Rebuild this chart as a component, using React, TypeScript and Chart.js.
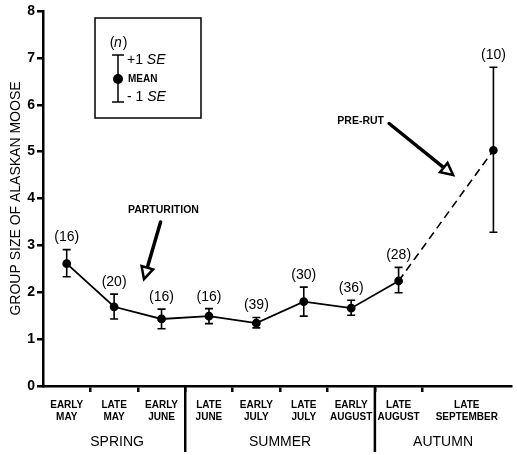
import React, { useEffect, useRef } from 'react';
import { Chart, registerables } from 'chart.js';

Chart.register(...registerables);

// ---- data ----
const periodLabels: string[][] = [
  ['EARLY', 'MAY'], ['LATE', 'MAY'], ['EARLY', 'JUNE'], ['LATE', 'JUNE'],
  ['EARLY', 'JULY'], ['LATE', 'JULY'], ['EARLY', 'AUGUST'], ['LATE', 'AUGUST'],
  ['LATE', 'SEPTEMBER'],
];
const periodIndex = [0, 1, 2, 3, 4, 5, 6, 7, 9];
const meanGroupSize = [2.61, 1.69, 1.43, 1.49, 1.34, 1.80, 1.66, 2.24, 5.03];
const upperSE = [2.91, 1.96, 1.64, 1.65, 1.46, 2.11, 1.83, 2.53, 6.80];
const lowerSE = [2.33, 1.43, 1.22, 1.33, 1.24, 1.49, 1.51, 1.99, 3.28];
const sampleSizes = [16, 20, 16, 16, 39, 30, 36, 28, 10];
const seasons = ['SPRING', 'SUMMER', 'AUTUMN'];
const seasonStart = [-0.5, 2.5, 6.5];
const boundaryTicks = [0.5, 1.5, 2.5, 3.5, 4.5, 5.5, 6.5, 7.5];
const seasonDividers = [2.5, 6.5];
const yTicks = [0, 1, 2, 3, 4, 5, 6, 7, 8];
const X_MIN = -0.5;
const X_MAX = 9.375;
const yTitle = 'GROUP SIZE OF ALASKAN MOOSE';
const annotations = [
  { text: 'PARTURITION', textAt: [2.04, 3.76], from: [1.98, 3.5], to: [1.63, 2.28] },
  { text: 'PRE-RUT', textAt: [6.2, 5.65], from: [6.8, 5.6], to: [8.15, 4.5] },
];

const FONT = '"Liberation Sans", Arial, Helvetica, sans-serif';

function drawArrow(ctx: CanvasRenderingContext2D, x1: number, y1: number, x2: number, y2: number) {
  const ang = Math.atan2(y2 - y1, x2 - x1);
  const headLen = 12;
  const headW = 6;
  const bx = x2 - headLen * Math.cos(ang);
  const by = y2 - headLen * Math.sin(ang);
  ctx.save();
  ctx.strokeStyle = '#000';
  ctx.lineWidth = 3.5;
  ctx.lineCap = 'round';
  ctx.beginPath();
  ctx.moveTo(x1, y1);
  ctx.lineTo(bx, by);
  ctx.stroke();
  ctx.lineWidth = 2.5;
  ctx.lineJoin = 'miter';
  ctx.beginPath();
  ctx.moveTo(x2, y2);
  ctx.lineTo(bx + headW * Math.sin(ang), by - headW * Math.cos(ang));
  ctx.lineTo(bx - headW * Math.sin(ang), by + headW * Math.cos(ang));
  ctx.closePath();
  ctx.fillStyle = '#fff';
  ctx.fill();
  ctx.stroke();
  ctx.restore();
}

function drawSE(ctx: CanvasRenderingContext2D, x: number, y: number, sign: string) {
  ctx.font = `14px ${FONT}`;
  ctx.fillText(sign, x, y);
  const w = ctx.measureText(sign).width;
  ctx.font = `italic 14px ${FONT}`;
  ctx.fillText('SE', x + w, y);
}

const moosePlugin = {
  id: 'moosePlugin',
  afterDatasetsDraw(chart: any) {
    const { ctx, chartArea, scales } = chart;
    const x = scales.x;
    const y = scales.y;
    ctx.save();
    ctx.fillStyle = '#000';
    ctx.strokeStyle = '#000';

    // error bars + sample sizes
    periodIndex.forEach((p, i) => {
      const px = x.getPixelForValue(p);
      const yt = y.getPixelForValue(upperSE[i]);
      const yb = y.getPixelForValue(lowerSE[i]);
      ctx.lineWidth = 1.6;
      ctx.beginPath();
      ctx.moveTo(px, yt); ctx.lineTo(px, yb);
      ctx.moveTo(px - 4, yt); ctx.lineTo(px + 4, yt);
      ctx.moveTo(px - 4, yb); ctx.lineTo(px + 4, yb);
      ctx.stroke();
      ctx.font = `14px ${FONT}`;
      ctx.textAlign = 'center';
      ctx.textBaseline = 'middle';
      ctx.fillText(`(${sampleSizes[i]})`, px, yt - 12);
    });

    // season dividers
    const bottom = chartArea.bottom;
    ctx.lineWidth = 2.5;
    seasonDividers.forEach((d) => {
      const px = x.getPixelForValue(d);
      ctx.beginPath();
      ctx.moveTo(px, bottom);
      ctx.lineTo(px, bottom + 66);
      ctx.stroke();
    });

    // period labels
    ctx.font = `bold 10px ${FONT}`;
    ctx.textAlign = 'center';
    ctx.textBaseline = 'middle';
    periodLabels.forEach((lines, i) => {
      let cx = x.getPixelForValue(periodIndex[i]);
      if (i === periodLabels.length - 1) {
        cx = (x.getPixelForValue(boundaryTicks[boundaryTicks.length - 1]) + chartArea.right) / 2;
      }
      lines.forEach((t, k) => ctx.fillText(t, cx, bottom + 19 + k * 12));
    });

    // season labels
    ctx.font = `14px ${FONT}`;
    seasons.forEach((s, i) => {
      const a = x.getPixelForValue(seasonStart[i]);
      const b = i + 1 < seasonStart.length ? x.getPixelForValue(seasonStart[i + 1]) : chartArea.right;
      ctx.fillText(s, (a + b) / 2 + (i === 0 ? 3 : 0), bottom + 56);
    });

    // y title
    ctx.save();
    ctx.translate(16, (chartArea.top + chartArea.bottom) / 2);
    ctx.rotate(-Math.PI / 2);
    ctx.font = `14px ${FONT}`;
    ctx.fillText(yTitle, 0, 0);
    ctx.restore();

    // annotations
    annotations.forEach((a) => {
      ctx.font = `bold 10.5px ${FONT}`;
      ctx.textAlign = 'center';
      ctx.fillText(a.text, x.getPixelForValue(a.textAt[0]), y.getPixelForValue(a.textAt[1]));
      drawArrow(ctx,
        x.getPixelForValue(a.from[0]), y.getPixelForValue(a.from[1]),
        x.getPixelForValue(a.to[0]), y.getPixelForValue(a.to[1]));
    });

    // legend box
    const lx = chartArea.left + 52;
    const ly = chartArea.top + 7;
    ctx.lineWidth = 1.5;
    ctx.strokeRect(lx, ly, 106, 100);
    const bx = lx + 23;
    ctx.font = `14px ${FONT}`;
    ctx.textAlign = 'center';
    ctx.fillText('(', bx - 6, ly + 25);
    ctx.font = `italic 14px ${FONT}`;
    ctx.fillText('n', bx, ly + 25);
    ctx.font = `14px ${FONT}`;
    ctx.fillText(')', bx + 7, ly + 25);
    ctx.beginPath();
    ctx.moveTo(bx, ly + 37); ctx.lineTo(bx, ly + 84);
    ctx.moveTo(bx - 6, ly + 37); ctx.lineTo(bx + 6, ly + 37);
    ctx.moveTo(bx - 6, ly + 84); ctx.lineTo(bx + 6, ly + 84);
    ctx.stroke();
    ctx.beginPath();
    ctx.arc(bx, ly + 61, 5, 0, Math.PI * 2);
    ctx.fill();
    ctx.textAlign = 'left';
    drawSE(ctx, bx + 9, ly + 42, '+1 ');
    ctx.font = `bold 10px ${FONT}`;
    ctx.fillText('MEAN', bx + 10, ly + 61);
    drawSE(ctx, bx + 9, ly + 79, '- 1 ');

    ctx.restore();
  },
};

export default function App() {
  const ref = useRef<HTMLCanvasElement>(null);
  useEffect(() => {
    if (!ref.current) return;
    const solid = periodIndex.slice(0, 8).map((p, i) => ({ x: p, y: meanGroupSize[i] }));
    const dashed = [
      { x: periodIndex[7], y: meanGroupSize[7] },
      { x: periodIndex[8], y: meanGroupSize[8] },
    ];
    const chart = new Chart(ref.current, {
      type: 'line',
      data: {
        datasets: [
          {
            data: solid,
            borderColor: '#000',
            borderWidth: 1.8,
            pointRadius: 3.5,
            pointBackgroundColor: '#000',
            pointBorderColor: '#000',
            tension: 0,
          },
          {
            data: dashed,
            borderColor: '#000',
            borderWidth: 1.6,
            borderDash: [8, 5],
            pointRadius: [0, 3.5],
            pointBackgroundColor: '#000',
            pointBorderColor: '#000',
            tension: 0,
          },
        ],
      },
      options: {
        responsive: false,
        animation: false,
        layout: { padding: { top: 11, right: 0, left: 0, bottom: 0 } },
        plugins: { legend: { display: false }, tooltip: { enabled: false }, title: { display: false } },
        scales: {
          x: {
            type: 'linear',
            min: X_MIN,
            max: X_MAX,
            afterBuildTicks: (s: any) => { s.ticks = boundaryTicks.map((v) => ({ value: v })); },
            afterFit: (s: any) => { s.height = 69; },
            ticks: { display: false },
            grid: { drawOnChartArea: false, drawTicks: true, tickLength: 6, color: '#000', lineWidth: 2.5 },
            border: { display: true, color: '#000', width: 2.5 },
          },
          y: {
            type: 'linear',
            min: 0,
            max: 8,
            afterBuildTicks: (s: any) => { s.ticks = yTicks.map((v) => ({ value: v })); },
            afterFit: (s: any) => { s.width = 43; },
            ticks: { color: '#000', font: { family: FONT, size: 14, weight: 'bold' }, padding: 2 },
            grid: { drawOnChartArea: false, drawTicks: true, tickLength: 6, color: '#000', lineWidth: 2.5 },
            border: { display: true, color: '#000', width: 2.5 },
          },
        },
      },
      plugins: [moosePlugin],
    } as any);
    return () => chart.destroy();
  }, []);
  return (
    <div style={{ position: 'absolute', left: 0, top: 0, width: 517, height: 455, background: '#fff' }}>
      <canvas ref={ref} width={517} height={455} />
    </div>
  );
}
